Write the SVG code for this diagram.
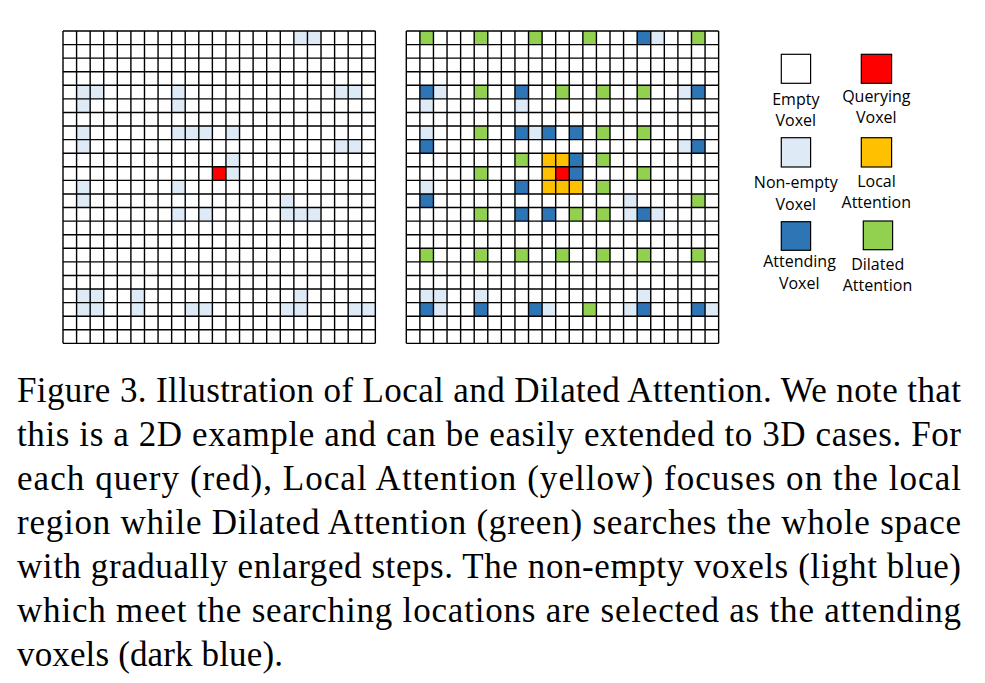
<svg xmlns="http://www.w3.org/2000/svg" xmlns:xlink="http://www.w3.org/1999/xlink" width="985" height="683" viewBox="0 0 985 683">
<style>
.lb{fill:#DEEBF7}.db{fill:#2E75B6}.gr{fill:#92D050}.ye{fill:#FFC000}.rd{fill:#FF0000}
.gl{fill:none;stroke:#000;stroke-width:1.4}
.lg{stroke:#000;stroke-width:1.2}
.lt{font-family:"Open Sans","Liberation Sans",sans-serif;font-size:16px;fill:#000;text-anchor:middle}
.cap{font-family:"Liberation Serif","Times New Roman",serif;font-size:35px;fill:#000}
</style>
<defs>
<path id="grid" class="gl" d="M0 0V312.34M13.58 0V312.34M27.16 0V312.34M40.74 0V312.34M54.32 0V312.34M67.9 0V312.34M81.48 0V312.34M95.06 0V312.34M108.64 0V312.34M122.22 0V312.34M135.8 0V312.34M149.38 0V312.34M162.96 0V312.34M176.54 0V312.34M190.12 0V312.34M203.7 0V312.34M217.28 0V312.34M230.86 0V312.34M244.44 0V312.34M258.02 0V312.34M271.6 0V312.34M285.18 0V312.34M298.76 0V312.34M312.34 0V312.34M0 0H312.34M0 13.58H312.34M0 27.16H312.34M0 40.74H312.34M0 54.32H312.34M0 67.9H312.34M0 81.48H312.34M0 95.06H312.34M0 108.64H312.34M0 122.22H312.34M0 135.8H312.34M0 149.38H312.34M0 162.96H312.34M0 176.54H312.34M0 190.12H312.34M0 203.7H312.34M0 217.28H312.34M0 230.86H312.34M0 244.44H312.34M0 258.02H312.34M0 271.6H312.34M0 285.18H312.34M0 298.76H312.34M0 312.34H312.34"/>
<rect id="c" width="13.58" height="13.58"/>
</defs>
<rect width="985" height="683" fill="#fff"/>

<g id="grid-left" transform="translate(63,31)">
<g class="lb">
<use href="#c" x="230.86" y="0"/><use href="#c" x="244.44" y="0"/>
<use href="#c" x="13.58" y="54.32"/><use href="#c" x="27.16" y="54.32"/><use href="#c" x="108.64" y="54.32"/><use href="#c" x="271.6" y="54.32"/><use href="#c" x="285.18" y="54.32"/>
<use href="#c" x="13.58" y="67.9"/><use href="#c" x="108.64" y="67.9"/>
<use href="#c" x="13.58" y="95.06"/><use href="#c" x="108.64" y="95.06"/><use href="#c" x="122.22" y="95.06"/><use href="#c" x="135.8" y="95.06"/><use href="#c" x="162.96" y="95.06"/>
<use href="#c" x="13.58" y="108.64"/><use href="#c" x="271.6" y="108.64"/><use href="#c" x="285.18" y="108.64"/>
<use href="#c" x="162.96" y="122.22"/>
<use href="#c" x="162.96" y="135.8"/>
<use href="#c" x="13.58" y="149.38"/><use href="#c" x="108.64" y="149.38"/>
<use href="#c" x="13.58" y="162.96"/><use href="#c" x="217.28" y="162.96"/>
<use href="#c" x="108.64" y="176.54"/><use href="#c" x="135.8" y="176.54"/><use href="#c" x="217.28" y="176.54"/><use href="#c" x="230.86" y="176.54"/><use href="#c" x="244.44" y="176.54"/>
<use href="#c" x="13.58" y="258.02"/><use href="#c" x="27.16" y="258.02"/><use href="#c" x="67.9" y="258.02"/><use href="#c" x="230.86" y="258.02"/>
<use href="#c" x="13.58" y="271.6"/><use href="#c" x="27.16" y="271.6"/><use href="#c" x="67.9" y="271.6"/><use href="#c" x="122.22" y="271.6"/><use href="#c" x="135.8" y="271.6"/><use href="#c" x="217.28" y="271.6"/><use href="#c" x="230.86" y="271.6"/><use href="#c" x="285.18" y="271.6"/><use href="#c" x="298.76" y="271.6"/>
</g>
<use href="#c" class="rd" x="149.38" y="135.8"/>
<use href="#grid"/>
</g>

<g id="grid-right" transform="translate(406.3,31)">
<g class="lb">
<use href="#c" x="244.44" y="0"/>
<use href="#c" x="27.16" y="54.32"/><use href="#c" x="271.6" y="54.32"/>
<use href="#c" x="13.58" y="67.9"/><use href="#c" x="108.64" y="67.9"/>
<use href="#c" x="13.58" y="95.06"/><use href="#c" x="122.22" y="95.06"/>
<use href="#c" x="271.6" y="108.64"/>
<use href="#c" x="13.58" y="149.38"/>
<use href="#c" x="217.28" y="162.96"/>
<use href="#c" x="217.28" y="176.54"/><use href="#c" x="244.44" y="176.54"/>
<use href="#c" x="13.58" y="258.02"/><use href="#c" x="27.16" y="258.02"/><use href="#c" x="67.9" y="258.02"/><use href="#c" x="230.86" y="258.02"/>
<use href="#c" x="27.16" y="271.6"/><use href="#c" x="135.8" y="271.6"/><use href="#c" x="217.28" y="271.6"/><use href="#c" x="298.76" y="271.6"/>
</g>
<g class="db">
<use href="#c" x="230.86" y="0"/>
<use href="#c" x="13.58" y="54.32"/><use href="#c" x="108.64" y="54.32"/><use href="#c" x="285.18" y="54.32"/>
<use href="#c" x="108.64" y="95.06"/><use href="#c" x="135.8" y="95.06"/><use href="#c" x="162.96" y="95.06"/>
<use href="#c" x="13.58" y="108.64"/><use href="#c" x="285.18" y="108.64"/>
<use href="#c" x="162.96" y="122.22"/>
<use href="#c" x="162.96" y="135.8"/>
<use href="#c" x="108.64" y="149.38"/>
<use href="#c" x="13.58" y="162.96"/>
<use href="#c" x="108.64" y="176.54"/><use href="#c" x="135.8" y="176.54"/><use href="#c" x="230.86" y="176.54"/>
<use href="#c" x="13.58" y="271.6"/><use href="#c" x="67.9" y="271.6"/><use href="#c" x="122.22" y="271.6"/><use href="#c" x="230.86" y="271.6"/><use href="#c" x="285.18" y="271.6"/>
</g>
<g class="gr">
<use href="#c" x="13.58" y="0"/><use href="#c" x="67.9" y="0"/><use href="#c" x="122.22" y="0"/><use href="#c" x="176.54" y="0"/><use href="#c" x="285.18" y="0"/>
<use href="#c" x="67.9" y="54.32"/><use href="#c" x="149.38" y="54.32"/><use href="#c" x="190.12" y="54.32"/><use href="#c" x="230.86" y="54.32"/>
<use href="#c" x="67.9" y="95.06"/><use href="#c" x="190.12" y="95.06"/><use href="#c" x="230.86" y="95.06"/>
<use href="#c" x="108.64" y="122.22"/><use href="#c" x="190.12" y="122.22"/>
<use href="#c" x="67.9" y="135.8"/><use href="#c" x="230.86" y="135.8"/>
<use href="#c" x="190.12" y="149.38"/>
<use href="#c" x="285.18" y="162.96"/>
<use href="#c" x="67.9" y="176.54"/><use href="#c" x="162.96" y="176.54"/><use href="#c" x="190.12" y="176.54"/>
<use href="#c" x="13.58" y="217.28"/><use href="#c" x="67.9" y="217.28"/><use href="#c" x="108.64" y="217.28"/><use href="#c" x="149.38" y="217.28"/><use href="#c" x="190.12" y="217.28"/><use href="#c" x="230.86" y="217.28"/><use href="#c" x="285.18" y="217.28"/>
<use href="#c" x="176.54" y="271.6"/>
</g>
<g class="ye">
<use href="#c" x="135.8" y="122.22"/><use href="#c" x="149.38" y="122.22"/>
<use href="#c" x="135.8" y="135.8"/>
<use href="#c" x="135.8" y="149.38"/><use href="#c" x="149.38" y="149.38"/><use href="#c" x="162.96" y="149.38"/>
</g>
<use href="#c" class="rd" x="149.38" y="135.8"/>
<use href="#grid"/>
</g>

<g id="legend-empty">
<rect class="lg" x="781.3" y="54.3" width="29.3" height="29" fill="#fff"/>
<text class="lt" x="795.8" y="105">Empty</text>
<text class="lt" x="795.8" y="126">Voxel</text>
</g>
<g id="legend-query">
<rect class="lg rd" x="861.3" y="54.3" width="30.3" height="29"/>
<text class="lt" x="876.3" y="101.7">Querying</text>
<text class="lt" x="876.3" y="123.3">Voxel</text>
</g>
<g id="legend-nonempty">
<rect class="lg lb" x="781.3" y="137.7" width="29.3" height="29.3"/>
<text class="lt" x="795.8" y="187.7">Non-empty</text>
<text class="lt" x="795.8" y="210">Voxel</text>
</g>
<g id="legend-local">
<rect class="lg ye" x="861.3" y="137.7" width="30.3" height="29.3"/>
<text class="lt" x="876.5" y="186.7">Local</text>
<text class="lt" x="876.3" y="208.3">Attention</text>
</g>
<g id="legend-attending">
<rect class="lg db" x="781.3" y="221.7" width="29.3" height="28.6"/>
<text class="lt" x="799.5" y="266.7">Attending</text>
<text class="lt" x="799.2" y="289.3">Voxel</text>
</g>
<g id="legend-dilated">
<rect class="lg gr" x="863.3" y="221" width="29.3" height="28.7"/>
<text class="lt" x="877.7" y="270">Dilated</text>
<text class="lt" x="877.5" y="291">Attention</text>
</g>

<g id="caption" class="cap">
<text x="17" y="402" textLength="944" lengthAdjust="spacing">Figure 3. Illustration of Local and Dilated Attention. We note that</text>
<text x="17" y="446" textLength="944" lengthAdjust="spacing">this is a 2D example and can be easily extended to 3D cases. For</text>
<text x="17" y="490" textLength="944" lengthAdjust="spacing">each query (red), Local Attention (yellow) focuses on the local</text>
<text x="17" y="534" textLength="944" lengthAdjust="spacing">region while Dilated Attention (green) searches the whole space</text>
<text x="17" y="578" textLength="944" lengthAdjust="spacing">with gradually enlarged steps. The non-empty voxels (light blue)</text>
<text x="17" y="622" textLength="944" lengthAdjust="spacing">which meet the searching locations are selected as the attending</text>
<text x="17" y="666" textLength="266" lengthAdjust="spacing">voxels (dark blue).</text>
</g>
</svg>
